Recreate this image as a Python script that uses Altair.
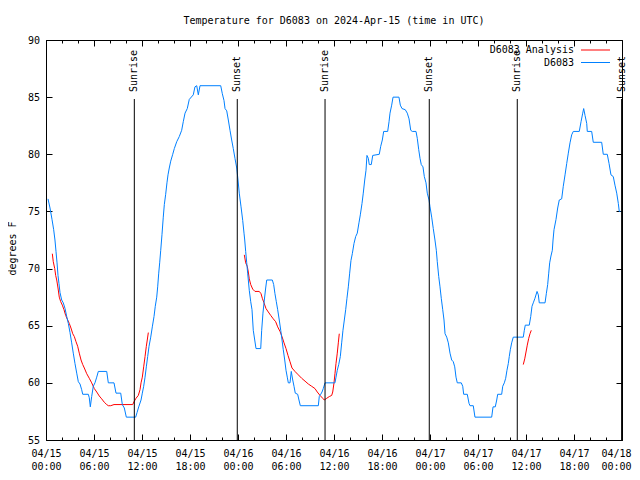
import json
import altair as alt
import pandas as pd

FONT = "DejaVu Sans Mono"
TITLE = "Temperature for D6083 on 2024-Apr-15 (time in UTC)"
Y_TITLE = "degrees F"
SERIES = ["D6083 Analysis", "D6083"]
COLORS = ["#ff0000", "#0080ff"]

# Observed temperature (hours since 2024-04-15 00:00 UTC, deg F)
obs_hours = [0.25, 0.5, 0.75, 0.96, 1.12, 1.25, 1.38, 1.5, 1.62, 1.75, 1.96, 2.16, 2.38, 2.59, 2.79,
             3.0, 3.21, 3.41, 3.62, 3.84, 4.04, 4.25, 4.46, 4.59, 5.29, 5.41, 5.54, 5.71, 5.91, 6.12,
             6.34, 6.54, 7.59, 7.79, 8.5, 8.75, 9.34, 9.54, 9.79, 10.04, 11.21, 11.38, 11.59, 11.88,
             12.04, 12.21, 12.38, 12.54, 12.71, 12.88, 13.09, 13.29, 13.5, 13.66, 13.84, 13.96, 14.09,
             14.21, 14.34, 14.5, 14.66, 14.79, 14.96, 15.12, 15.25, 15.41, 15.59, 15.84, 16.04, 16.34,
             16.66, 16.96, 17.16, 17.38, 17.66, 17.91, 18.41, 18.62, 18.84, 19.04, 19.25, 21.84, 22.04,
             22.25, 22.38, 22.59, 22.79, 23.0, 23.21, 23.41, 23.62, 23.84, 24.0, 24.16, 24.38, 24.59,
             24.75, 24.84, 24.96, 25.09, 25.21, 25.41, 25.59, 25.75, 25.91, 26.09, 26.25, 26.84, 26.96,
             27.12, 27.29, 27.46, 27.59, 28.29, 28.46, 28.62, 28.79, 28.96, 29.16, 29.34, 29.5, 29.66,
             29.84, 30.0, 30.16, 30.29, 30.5, 30.66, 30.84, 31.0, 31.16, 31.46, 31.62, 31.79, 34.04,
             34.16, 34.34, 34.5, 34.66, 34.88, 36.12, 36.25, 36.41, 36.59, 36.79, 36.96, 37.12, 37.29,
             37.46, 37.62, 37.79, 37.96, 38.12, 38.29, 38.5, 38.71, 38.91, 39.12, 39.29, 39.5, 39.66,
             39.84, 40.0, 40.12, 40.29, 40.41, 40.66, 40.84, 41.66, 41.84, 42.04, 42.21, 42.71, 42.88,
             43.0, 43.21, 43.38, 44.12, 44.29, 44.5, 44.91, 45.16, 45.38, 45.59, 45.79, 46.25, 46.41,
             46.59, 46.75, 46.91, 47.12, 47.29, 47.5, 47.66, 47.88, 48.0, 48.21, 48.41, 48.62, 48.79,
             48.91, 49.09, 49.25, 49.41, 49.59, 49.75, 49.88, 50.09, 50.29, 50.5, 50.71, 50.91, 51.09,
             51.25, 51.41, 51.91, 52.09, 52.21, 52.66, 52.88, 53.0, 53.41, 53.62, 55.71, 55.88, 56.16,
             56.34, 56.46, 56.96, 57.09, 57.29, 57.46, 57.62, 57.79, 57.91, 58.04, 58.21, 58.41, 59.66,
             59.79, 59.91, 60.41, 60.59, 60.75, 60.91, 61.12, 61.38, 61.54, 61.66, 62.38, 62.54, 62.71,
             62.84, 62.96, 63.12, 63.29, 63.38, 63.5, 63.75, 63.96, 64.16, 64.46, 64.66, 64.88, 65.09,
             65.29, 65.5, 65.71, 65.91, 66.66, 66.88, 67.09, 67.21, 67.38, 67.59, 67.66, 68.21, 68.41,
             69.46, 69.66, 70.16, 70.38, 70.62, 70.91, 71.12, 71.34, 71.54, 71.66, 71.81]
obs_temps = [76.1, 75.3, 74.3, 73.4, 72.5, 71.5, 70.5, 69.4, 68.7, 67.9, 67.25, 67.0, 66.5, 65.8, 65.2,
             64.4, 63.5, 62.6, 61.7, 60.85, 60.1, 59.9, 59.4, 59.0, 59.0, 58.7, 57.9, 58.8, 59.7, 60.0,
             60.5, 61.0, 61.0, 60.0, 60.0, 59.1, 59.1, 58.1, 57.8, 57.0, 57.0, 57.4, 57.9, 58.5,
             59.1, 59.7, 60.5, 61.4, 62.3, 63.2, 64.0, 64.9, 65.8, 66.7, 67.5, 68.4, 69.6,
             70.5, 71.6, 73.0, 74.5, 75.6, 76.5, 77.5, 78.2, 78.8, 79.4, 80.0, 80.5, 81.1,
             81.55, 82.1, 82.85, 83.6, 84.0, 84.8, 85.2, 85.9, 86.0, 85.2, 86.0, 86.0, 85.3,
             84.7, 84.0, 83.8, 83.0, 82.1, 81.25, 80.5, 79.65, 78.8, 77.75, 76.6, 75.4, 74.2,
             73.1, 72.5, 71.5, 70.5, 69.6, 68.1, 67.1, 66.4, 64.6, 63.75, 63.0, 63.0, 64.6,
             66.1, 67.25, 68.3, 69.0, 69.0, 68.6, 67.8, 67.1, 66.4, 65.5, 64.6, 63.75, 62.9,
             62.0, 61.1, 60.5, 60.0, 60.0, 61.0, 60.25, 59.7, 59.1, 59.0, 58.5, 58.0, 58.0,
             58.8, 59.0, 59.2, 59.5, 60.0, 60.0, 60.5, 61.1, 61.6, 62.3, 63.5, 64.6, 65.5,
             66.4, 67.4, 68.4, 69.6, 70.7, 71.3, 72.2, 72.8, 73.1, 74.0, 74.7, 75.7, 76.6,
             77.75, 78.6, 79.9, 79.65, 79.1, 79.1, 79.9, 80.0, 80.7, 81.25, 82.0, 82.0, 82.85,
             83.6, 84.3, 85.0, 85.0, 84.3, 84.0, 83.9, 83.6, 83.1, 82.1, 82.0, 82.0, 81.4,
             80.4, 79.65, 79.1, 78.9, 78.05, 77.5, 76.6, 76.0, 75.4, 74.5, 73.5, 72.5, 71.6,
             70.6, 69.3, 68.4, 67.4, 66.4, 65.5, 64.3, 64.0, 63.5, 62.6, 62.0, 61.85, 61.4,
             60.5, 60.0, 60.0, 59.7, 59.0, 59.0, 58.2, 58.0, 58.0, 57.0, 57.0, 57.9, 57.9,
             58.5, 59.0, 59.0, 59.7, 60.0, 60.4, 61.1, 61.7, 62.3, 62.9, 63.5, 64.0, 64.0,
             64.6, 65.05, 65.05, 65.8, 66.7, 67.0, 67.4, 68.0, 67.7, 67.0, 67.0, 67.8, 68.6,
             69.6, 70.5, 71.1, 71.6, 72.5, 73.4, 74.3, 75.3, 76.0, 76.1, 77.2, 78.2, 79.2,
             80.1, 81.0, 81.7, 82.0, 82.0, 82.85, 83.6, 84.0, 83.4, 82.7, 82.0, 82.0, 81.05,
             81.05, 80.0, 80.0, 79.2, 78.2, 78.05, 77.3, 76.6, 75.7, 75.0, 75.0]

# Analysis (three separate runs)
ana_hours = [0.79, 0.91, 1.09, 1.21, 1.34, 1.5, 1.66, 1.84, 2.04, 2.25, 2.46, 2.71, 2.91, 3.12, 3.34,
             3.54, 3.75, 3.96, 4.16, 4.38, 4.59, 4.79, 5.09, 5.41, 5.71, 6.04, 6.34, 6.66, 6.96, 7.29,
             7.59, 7.79, 8.09, 8.5, 10.84, 11.0, 11.25, 11.54, 11.75, 11.88, 12.04, 12.21, 12.38, 12.54,
             12.66, 12.79,
             24.79, 24.96, 25.16, 25.29, 25.41, 25.59, 25.84, 26.12, 26.66, 26.88, 27.04, 27.25, 27.5,
             27.79, 28.09, 28.41, 28.71, 28.96, 29.25, 29.5, 29.75, 30.0, 30.25, 30.5, 30.75, 31.12,
             31.54, 31.96, 32.38, 32.79, 33.21, 33.62, 33.91, 34.25, 34.59, 34.79, 35.09, 35.41, 35.71,
             35.84, 36.0, 36.12, 36.25, 36.41, 36.54, 36.66,
             59.66, 59.84, 60.0, 60.16, 60.34, 60.5, 60.66]
ana_temps = [71.3, 70.6, 70.0, 69.4, 69.0, 68.3, 67.5, 67.1, 66.8, 66.4, 65.9, 65.5, 65.2, 64.8, 64.3,
             64.05, 63.6, 63.2, 62.6, 62.0, 61.6, 61.3, 60.8, 60.4, 60.0, 59.5, 59.2, 58.85, 58.6, 58.3,
             58.1, 58.0, 58.0, 58.1, 58.1, 58.35, 58.65, 58.9, 59.4, 60.0, 60.5, 61.4, 62.3, 63.2,
             63.75, 64.4,
             71.2, 70.5, 70.2, 69.7, 69.1, 68.6, 68.2, 68.0, 68.0, 67.8, 67.4, 67.0, 66.5,
             66.2, 65.9, 65.6, 65.35, 64.9, 64.5, 64.05, 63.5, 63.0, 62.4, 61.85, 61.3, 61.0,
             60.7, 60.4, 60.15, 59.9, 59.7, 59.5, 59.2, 58.9, 58.65, 58.5, 58.65, 58.8, 58.9,
             59.2, 60.0, 60.8, 61.7, 62.6, 63.5, 64.3,
             61.6, 62.1, 62.7, 63.3, 63.9, 64.3, 64.6]
ana_run = [1] * 46 + [2] * 46 + [3] * 7

SUN_HOURS = [11.04, 23.91, 34.88, 47.91, 58.91, 71.95]
SUN_LABELS = ["Sunrise", "Sunset", "Sunrise", "Sunset", "Sunrise", "Sunset"]

X_TICKS = [0, 6, 12, 18, 24, 30, 36, 42, 48, 54, 60, 66, 72]
X_TICK_LABELS = [["04/15", "00:00"], ["04/15", "06:00"], ["04/15", "12:00"], ["04/15", "18:00"],
                 ["04/16", "00:00"], ["04/16", "06:00"], ["04/16", "12:00"], ["04/16", "18:00"],
                 ["04/17", "00:00"], ["04/17", "06:00"], ["04/17", "12:00"], ["04/17", "18:00"],
                 ["04/18", "00:00"]]
X_MINOR = list(range(0, 73, 2))
Y_TICKS = [55, 60, 65, 70, 75, 80, 85, 90]
X_DOMAIN = [0, 72]
Y_DOMAIN = [55, 90]

obs_df = pd.DataFrame({"hour": obs_hours, "temp": obs_temps, "series": SERIES[1]})
ana_df = pd.DataFrame({"hour": ana_hours, "temp": ana_temps, "series": SERIES[0], "run": ana_run})
sun_df = pd.DataFrame({"hour": SUN_HOURS, "label": SUN_LABELS})
legend_df = pd.DataFrame({"series": SERIES, "row": [0, 1]})

common = dict(domain=False, grid=False, tickColor="black", tickWidth=1,
              labelFont=FONT, labelFontSize=10, labelColor="black",
              titleFont=FONT, titleFontSize=10, titleColor="black", titleFontWeight="normal")

label_expr = json.dumps(X_TICK_LABELS) + "[round(datum.value / 6)]"

# the last label is nudged left a little so it stays inside the page edge
x_major_bottom = alt.Axis(orient="bottom", values=X_TICKS, tickSize=6, offset=-6, labelPadding=8,
                          labelExpr=label_expr, labelBaseline="top", labelLineHeight=13.5,
                          labelAlign="center", labelFlush=False, labelOverlap=False, title=None,
                          labelOffset={"condition": {"test": "datum.value >= 72", "value": -6},
                                       "value": 0},
                          **common)
x_minor_bottom = alt.Axis(orient="bottom", values=X_MINOR, tickSize=3, offset=-3, labels=False,
                          title=None, **common)
x_major_top = alt.Axis(orient="top", values=X_TICKS, tickSize=6, offset=-6, labels=False,
                       title=None, **common)
x_minor_top = alt.Axis(orient="top", values=X_MINOR, tickSize=3, offset=-3, labels=False,
                       title=None, **common)
y_left = alt.Axis(orient="left", values=Y_TICKS, tickSize=6, offset=-6, labelPadding=6.5,
                  title=Y_TITLE, titlePadding=9.5, titleY=208, **common)
y_right = alt.Axis(orient="right", values=Y_TICKS, tickSize=6, offset=-6, labels=False,
                   title=None, **common)

x_scale = alt.Scale(domain=X_DOMAIN, nice=False, zero=False)
y_scale = alt.Scale(domain=Y_DOMAIN, nice=False, zero=False)
color_scale = alt.Scale(domain=SERIES, range=COLORS)
color = alt.Color("series:N", scale=color_scale, legend=None)
legend_row = alt.Y("row:Q", scale=alt.Scale(domain=[0, 1], range=[10, 22.5]), axis=None)

red = alt.Chart(ana_df).mark_line(strokeWidth=1, clip=True).encode(
    x=alt.X("hour:Q", scale=x_scale, axis=x_minor_bottom),
    y=alt.Y("temp:Q", scale=y_scale, axis=y_right),
    color=color,
    detail="run:N",
)

blue = alt.Chart(obs_df).mark_line(strokeWidth=1, clip=True).encode(
    x=alt.X("hour:Q", scale=x_scale, axis=x_major_bottom),
    y=alt.Y("temp:Q", scale=y_scale, axis=y_left),
    color=color,
)

rules = alt.Chart(sun_df).mark_rule(color="black", strokeWidth=1).encode(
    x=alt.X("hour:Q", scale=x_scale, axis=x_major_top),
    y=alt.value(59),
    y2=alt.value(400),
)

texts = alt.Chart(sun_df).mark_text(angle=270, align="left", baseline="middle", font=FONT,
                                    fontSize=10, color="black").encode(
    x=alt.X("hour:Q", scale=x_scale, axis=x_minor_top),
    y=alt.value(52),
    text="label:N",
)

legend_text = alt.Chart(legend_df).mark_text(align="right", baseline="middle", font=FONT,
                                             fontSize=10, color="black").encode(
    x=alt.value(528),
    y=legend_row,
    text="series:N",
)

legend_line = alt.Chart(legend_df).mark_rule(strokeWidth=1).encode(
    x=alt.value(535),
    x2=alt.value(564),
    y=legend_row,
    color=color,
)

chart = alt.layer(red, blue, rules, texts, legend_text, legend_line).resolve_scale(
    x="independent", y="independent"
).properties(
    width=576,
    height=400,
    title=alt.TitleParams(TITLE, font=FONT, fontSize=10, fontWeight="normal", color="black",
                          anchor="middle", frame="group", offset=9),
    autosize=alt.AutoSizeParams(type="none"),
    padding={"left": 38, "top": 32, "right": 10, "bottom": 32},
    background="white",
).configure_view(stroke="black", strokeWidth=1)

chart.save("out.html", embed_options={"renderer": "svg", "actions": False})
